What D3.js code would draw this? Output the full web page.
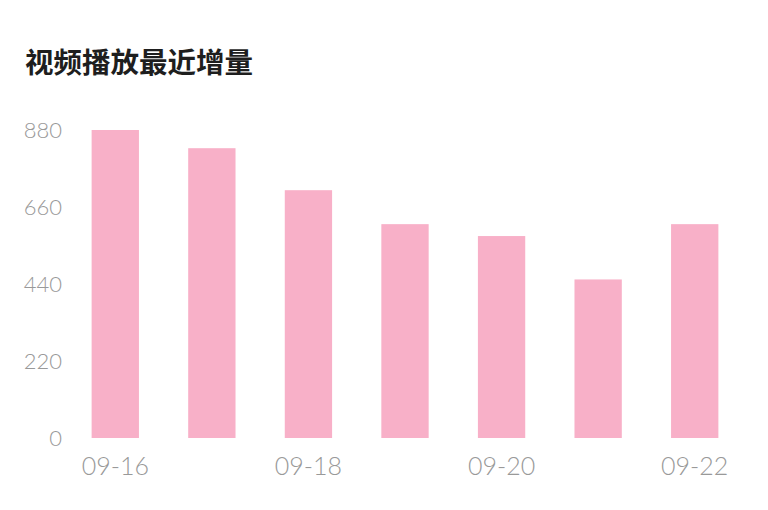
<!DOCTYPE html>
<html>
<head>
<meta charset="utf-8">
<script src="https://cdn.jsdelivr.net/npm/d3@7"></script>
<style>
  html, body { margin: 0; padding: 0; background: #fff; }
  svg { display: block; }
</style>
</head>
<body>
<svg width="768" height="510"></svg>
<script>
const title = "视频播放最近增量";
const dates = ["09-16", "09-17", "09-18", "09-19", "09-20", "09-21", "09-22"];
const views = [880, 828, 708, 611, 577, 453, 611];
const yTicks = [0, 220, 440, 660, 880];
const shownDates = ["09-16", "09-18", "09-20", "09-22"];

const svg = d3.select("svg");

const x = d3.scaleBand()
  .domain(dates)
  .range([67, 743])
  .paddingInner(0.51)
  .paddingOuter(0.255);

const y = d3.scaleLinear().domain([0, 880]).range([438, 130]);

svg.append("text")
  .attr("x", 25)
  .attr("y", 60)
  .attr("dominant-baseline", "central")
  .style("font-family", "'Noto Sans CJK SC', sans-serif")
  .style("font-weight", 700)
  .style("font-size", "28.5px")
  .attr("fill", "#1e1e1e")
  .text(title);

svg.append("g")
  .selectAll("rect")
  .data(views)
  .join("rect")
  .attr("x", (d, i) => x(dates[i]))
  .attr("width", x.bandwidth())
  .attr("y", (d) => y(d))
  .attr("height", (d) => y(0) - y(d))
  .attr("fill", "#f8b0c8");

// y axis, labels only
const yAxis = svg.append("g")
  .attr("transform", "translate(62,0)")
  .call(d3.axisLeft(y).tickValues(yTicks).tickSize(0).tickPadding(0));
yAxis.select(".domain").remove();
yAxis.selectAll("text")
  .attr("dy", "0.35em")
  .attr("fill", "#999")
  .style("font-family", "Lato, 'Open Sans', sans-serif")
  .style("font-weight", 300)
  .style("font-size", "22px");

// x axis, every other date
const xAxis = svg.append("g")
  .attr("transform", "translate(0,438)")
  .call(d3.axisBottom(x).tickValues(shownDates).tickSize(0).tickPadding(0));
xAxis.select(".domain").remove();
xAxis.selectAll("text")
  .attr("dy", 0)
  .attr("y", 37)
  .attr("fill", "#999")
  .style("font-family", "Lato, 'Open Sans', sans-serif")
  .style("font-weight", 300)
  .style("font-size", "25px");
</script>
</body>
</html>
